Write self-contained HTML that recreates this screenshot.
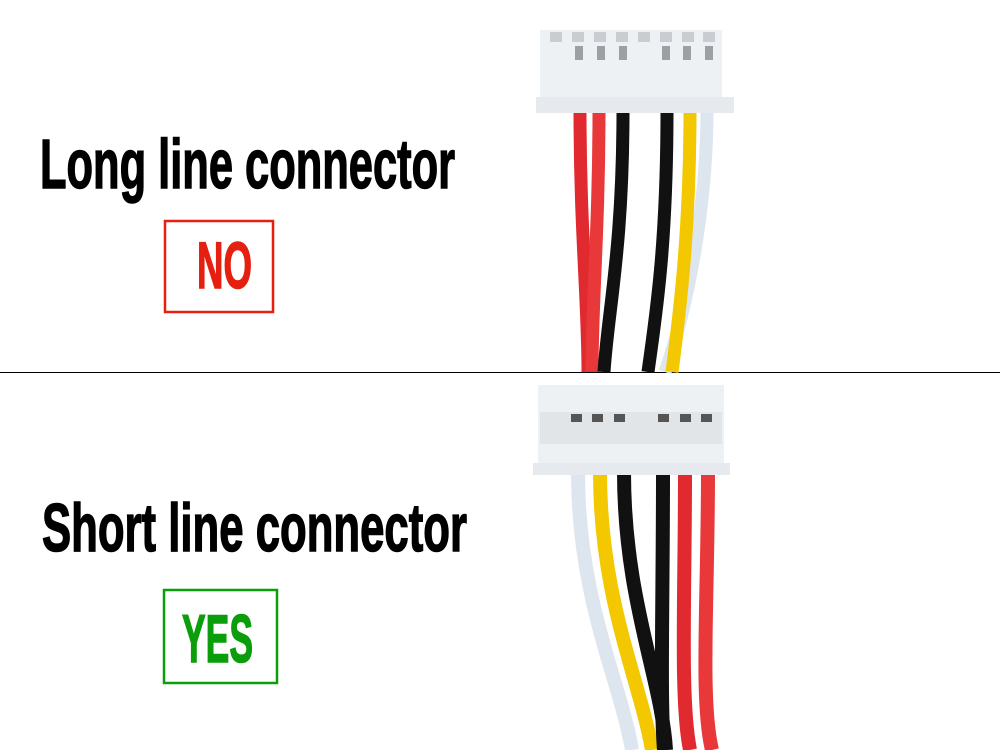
<!DOCTYPE html>
<html><head><meta charset="utf-8"><style>
html,body{margin:0;padding:0;background:#fff;width:1000px;height:750px;overflow:hidden}
svg{display:block}
text{font-family:"Liberation Sans Narrow","Liberation Sans",sans-serif;font-weight:bold}
</style></head><body>
<svg width="1000" height="750" viewBox="0 0 1000 750" xmlns="http://www.w3.org/2000/svg">
<rect width="1000" height="750" fill="#fff"/>
<line x1="0" y1="372.5" x2="1000" y2="372.5" stroke="#000" stroke-width="1"/>

<text x="40" y="188" font-size="70" stroke="#000" stroke-width="1.5" textLength="415" lengthAdjust="spacingAndGlyphs">Long line connector</text>
<rect x="165" y="221" width="108" height="91" fill="none" stroke="#e52010" stroke-width="2.5"/>
<text x="197" y="288" font-size="66" fill="#e52010" stroke="#e52010" stroke-width="1.5" textLength="55" lengthAdjust="spacingAndGlyphs">NO</text>

<text x="42" y="551" font-size="68" stroke="#000" stroke-width="1.5" textLength="425" lengthAdjust="spacingAndGlyphs">Short line connector</text>
<rect x="164" y="590" width="113" height="93" fill="none" stroke="#0a9e0a" stroke-width="2.5"/>
<text x="182" y="662" font-size="68" fill="#0a9e0a" stroke="#0a9e0a" stroke-width="1.5" textLength="71" lengthAdjust="spacingAndGlyphs">YES</text>

<!-- top wires -->
<g fill="none" stroke-width="13" stroke-linecap="butt">
<path d="M707 110 C707 200 690 300 665 372" stroke="#dde6ee"/>
<path d="M580 110 C580 230 588 300 588 372" stroke="#e02a30"/>
<path d="M599 110 C599 230 592 300 592 372" stroke="#e8383a"/>
<path d="M623 110 C623 250 608 310 604 372" stroke="#111"/>
<path d="M667 110 C667 250 655 320 648 372" stroke="#111"/>
<path d="M690 110 C690 230 680 310 672 372" stroke="#f3c800"/>
</g>
<rect x="540" y="30" width="182" height="75" fill="#eef1f4"/>
<rect x="536" y="97" width="198" height="16" fill="#e6eaee"/>
<g fill="#c9cdd1">
<rect x="550" y="32" width="12" height="10"/><rect x="572" y="32" width="12" height="10"/><rect x="594" y="32" width="12" height="10"/><rect x="616" y="32" width="12" height="10"/><rect x="638" y="32" width="12" height="10"/><rect x="660" y="32" width="12" height="10"/><rect x="682" y="32" width="12" height="10"/><rect x="703" y="32" width="12" height="10"/>
</g>
<g fill="#9aa0a4">
<rect x="575" y="46" width="8" height="14"/><rect x="597" y="46" width="8" height="14"/><rect x="619" y="46" width="8" height="14"/><rect x="662" y="46" width="8" height="14"/><rect x="683" y="46" width="8" height="14"/><rect x="705" y="46" width="8" height="14"/>
</g>

<!-- bottom wires -->
<g fill="none" stroke-width="14" stroke-linecap="butt">
<path d="M578 472 C578 600 620 680 632 750" stroke="#dde6ee"/>
<path d="M600 472 C600 600 640 680 652 750" stroke="#f3c800"/>
<path d="M624 472 C624 600 662 680 666 750" stroke="#111"/>
<path d="M663 472 C663 600 660 700 664 750" stroke="#111"/>
<path d="M685 472 C685 600 680 700 690 750" stroke="#e02a30"/>
<path d="M708 472 C708 600 700 700 712 750" stroke="#e8383a"/>
</g>
<rect x="538" y="385" width="186" height="82" fill="#eef1f4"/>
<rect x="533" y="463" width="197" height="12" fill="#e6eaee"/>
<rect x="540" y="412" width="182" height="32" fill="#e2e5e8"/>
<g fill="#555">
<rect x="571" y="414" width="11" height="8"/><rect x="592" y="414" width="11" height="8"/><rect x="614" y="414" width="11" height="8"/><rect x="658" y="414" width="11" height="8"/><rect x="680" y="414" width="11" height="8"/><rect x="701" y="414" width="11" height="8"/>
</g>
</svg>
</body></html>
